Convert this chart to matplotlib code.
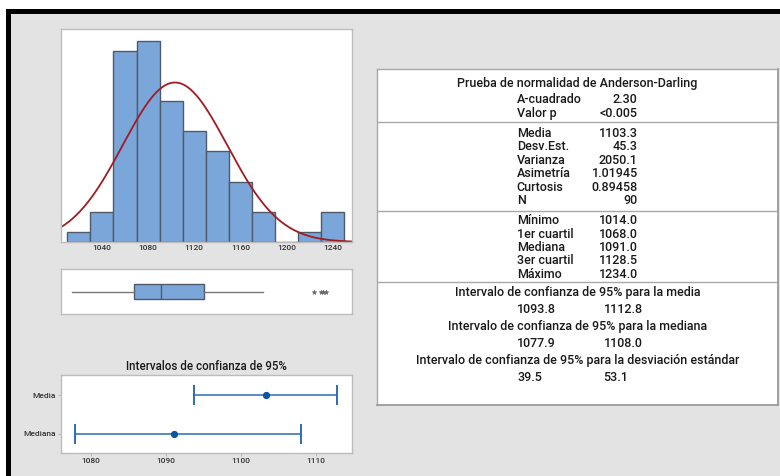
import numpy as np
import matplotlib.pyplot as plt
from matplotlib.patches import Rectangle

# histograma (conteos por clase, ancho 20)
bin_left = [1010, 1030, 1050, 1070, 1090, 1110, 1130, 1150, 1170, 1190, 1210, 1230]
counts = [1, 3, 19, 20, 14, 11, 9, 6, 3, 0, 1, 3]
bin_width = 20
media = 1103.3
desv = 45.3
n = 90

# grafica de caja
q1, mediana, q3 = 1068.0, 1091.0, 1128.5
minimo = 1014.0
bigote_sup = 1180.0
atipicos = [1224, 1230, 1232, 1234]

# intervalos de confianza
ic_nombres = ['Mediana', 'Media']
ic_centro = [1091.0, 1103.3]
ic_inf = [1077.9, 1093.8]
ic_sup = [1108.0, 1112.8]

# tabla resumen
ad_etiquetas = ['A-cuadrado', 'Valor p']
ad_valores = ['2.30', '<0.005']
desc_etiquetas = ['Media', 'Desv.Est.', 'Varianza', 'Asimetría', 'Curtosis', 'N']
desc_valores = ['1103.3', '45.3', '2050.1', '1.01945', '0.89458', '90']
cuart_etiquetas = ['Mínimo', '1er cuartil', 'Mediana', '3er cuartil', 'Máximo']
cuart_valores = ['1014.0', '1068.0', '1091.0', '1128.5', '1234.0']
ic_titulos = ['Intervalo de confianza de 95% para la media',
              'Intervalo de confianza de 95% para la mediana',
              'Intervalo de confianza de 95% para la desviación estándar']
ic_valores = [('1093.8', '1112.8'), ('1077.9', '1108.0'), ('39.5', '53.1')]

plt.rcParams['font.family'] = ['Roboto', 'DejaVu Sans']
W, H = 780, 476
GRIS = '#e3e3e3'
TXT = '#1a1a1a'
SPINE = '#bcbcbc'
PESO = 'medium'


def caja(l, t, r, b):
    return [l / W, 1 - b / H, (r - l) / W, (b - t) / H]


fig = plt.figure(figsize=(W / 100, H / 100), dpi=100, facecolor='white')

# fondo y bordes negros
bg = fig.add_axes([0, 0, 1, 1])
bg.set_xlim(0, W)
bg.set_ylim(H, 0)
bg.axis('off')
bg.add_patch(Rectangle((6, 9), W - 6, H - 9, color=GRIS, lw=0))
bg.add_patch(Rectangle((6, 9), W - 6, 4.5, color='black', lw=0))
bg.add_patch(Rectangle((6, 9), 4.5, H - 9, color='black', lw=0))


def estilo(ax):
    ax.set_facecolor('white')
    for s in ax.spines.values():
        s.set_color(SPINE)
        s.set_linewidth(1)


# --- histograma ---
xlim = (1004.3, 1256.7)
ax = fig.add_axes(caja(60.7, 28.7, 352, 242))
estilo(ax)
ax.bar(bin_left, counts, width=bin_width, align='edge', color='#7ba6d9',
       edgecolor='#4f5b68', linewidth=1)
xs = np.linspace(xlim[0], xlim[1], 300)
ys = n * bin_width / (desv * np.sqrt(2 * np.pi)) * np.exp(-0.5 * ((xs - media) / desv) ** 2)
ax.plot(xs, ys, color='#a01c22', lw=1.3)
ax.set_xlim(*xlim)
ax.set_ylim(0, 21.2)
ax.set_yticks([])
ax.set_xticks([1040, 1080, 1120, 1160, 1200, 1240])
ax.tick_params(axis='x', length=0, pad=2, labelsize=6, labelcolor='#333333')
for t in ax.get_xticklabels():
    t.set_fontweight(PESO)

# --- caja ---
axb = fig.add_axes(caja(60.7, 269, 352, 314))
estilo(axb)
stats = [dict(med=mediana, q1=q1, q3=q3, whislo=minimo, whishi=bigote_sup, fliers=atipicos)]
axb.bxp(stats, positions=[1], widths=0.5, orientation='horizontal', patch_artist=True,
        showcaps=False,
        boxprops=dict(facecolor='#7ba6d9', edgecolor='#4f5b68', lw=1),
        medianprops=dict(color='#4f5b68', lw=1),
        whiskerprops=dict(color='#777777', lw=1),
        flierprops=dict(marker='*', markersize=3.5, markeredgecolor='#666666',
                        markerfacecolor='#666666', markeredgewidth=0.4))
axb.set_xlim(*xlim)
axb.set_ylim(0.25, 1.75)
axb.set_xticks([])
axb.set_yticks([])

# --- intervalos ---
axc = fig.add_axes(caja(60.7, 375.3, 352, 452.7))
estilo(axc)
ypos = np.arange(len(ic_nombres))
for i in range(len(ic_nombres)):
    axc.errorbar(ic_centro[i], ypos[i],
                 xerr=[[ic_centro[i] - ic_inf[i]], [ic_sup[i] - ic_centro[i]]],
                 fmt='o', color='#2b6cb5', ecolor='#2b6cb5', elinewidth=1.1,
                 capsize=7, capthick=1.4, markersize=4.2, markerfacecolor='#0b55a3',
                 markeredgecolor='#0b55a3')
axc.set_xlim(1075.96, 1114.8)
axc.set_ylim(-0.49, 1.52)
axc.set_yticks(ypos)
axc.set_yticklabels(ic_nombres)
axc.set_xticks([1080, 1090, 1100, 1110])
axc.tick_params(length=2, color=SPINE, pad=1.5, labelsize=6, labelcolor='#333333')
for t in axc.get_xticklabels() + axc.get_yticklabels():
    t.set_fontweight(PESO)
axc.set_title('Intervalos de confianza de 95%', fontsize=8.3, color=TXT,
              fontweight=PESO, pad=3.5)

# --- tabla ---
L, R, T, B = 376.7, 778, 69.3, 405
axt = fig.add_axes(caja(L, T, R, B))
axt.set_xlim(L, R)
axt.set_ylim(B, T)
axt.set_xticks([])
axt.set_yticks([])
axt.set_facecolor('white')
for s in axt.spines.values():
    s.set_color('#a8a8a8')
    s.set_linewidth(1)
axt.spines['right'].set_color('#9a9a9a')
axt.spines['right'].set_linewidth(1.3)
axt.spines['bottom'].set_color('#9a9a9a')
axt.spines['bottom'].set_linewidth(1.3)

fs = 9.0
kw = dict(fontsize=fs, color=TXT, fontweight=PESO, va='center')
xc = (L + R) / 2
x_lab, x_val = 516.7, 637.7
axt.text(xc, 83.5, 'Prueba de normalidad de Anderson-Darling', ha='center', **kw)
for lab, val, y in zip(ad_etiquetas, ad_valores, [99.3, 113.3]):
    axt.text(x_lab, y, lab, ha='left', **kw)
    axt.text(x_val, y, val, ha='right', **kw)
for lab, val, y in zip(desc_etiquetas, desc_valores, 133.3 + 13.48 * np.arange(6)):
    axt.text(x_lab, y, lab, ha='left', **kw)
    axt.text(x_val, y, val, ha='right', **kw)
for lab, val, y in zip(cuart_etiquetas, cuart_valores, 220.7 + 13.33 * np.arange(5)):
    axt.text(x_lab, y, lab, ha='left', **kw)
    axt.text(x_val, y, val, ha='right', **kw)
for ysep in [122.3, 210.7, 281.7]:
    axt.plot([L, R], [ysep, ysep], color='#a8a8a8', lw=1)
for tit, (v1, v2), y in zip(ic_titulos, ic_valores, [292.7, 326.7, 361]):
    axt.text(xc, y, tit, ha='center', **kw)
    axt.text(517.3, y + 17, v1, ha='left', **kw)
    axt.text(603.5, y + 17, v2, ha='left', **kw)

fig.savefig('out.png', dpi=100, facecolor='white')
